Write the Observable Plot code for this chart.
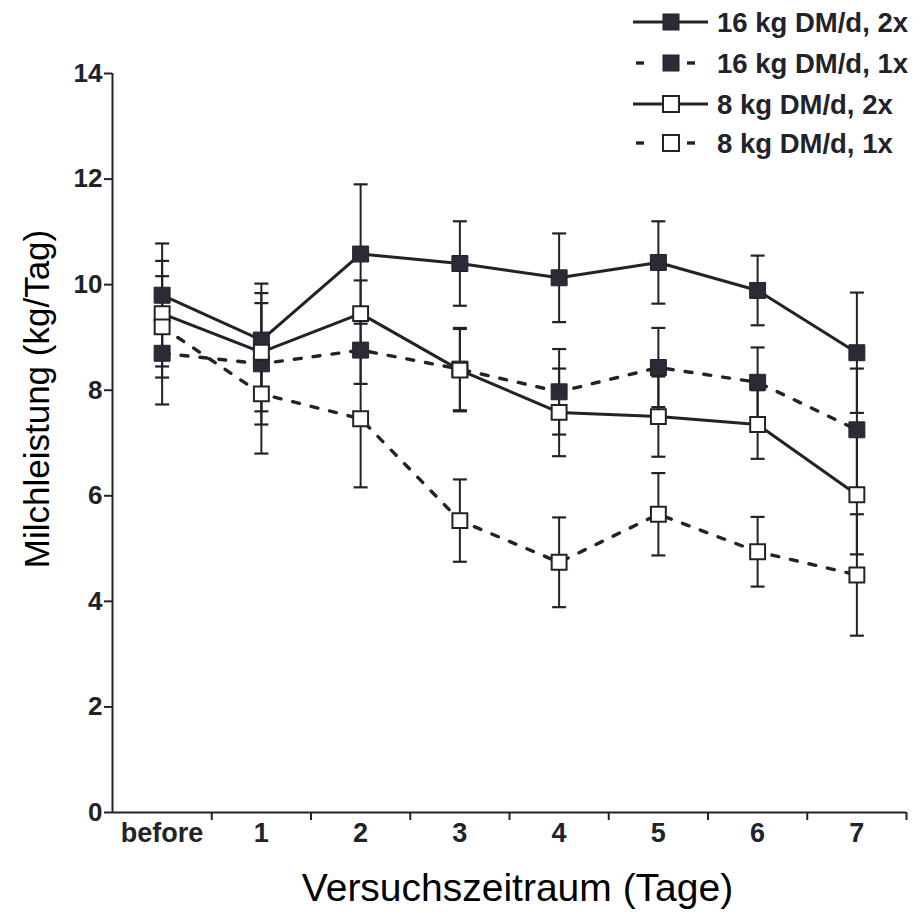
<!DOCTYPE html>
<html>
<head>
<meta charset="utf-8">
<script src="https://cdn.jsdelivr.net/npm/d3@7"></script>
<script src="https://cdn.jsdelivr.net/npm/@observablehq/plot@0.6"></script>
<style>
  html, body { margin: 0; padding: 0; background: #fff; }
  #wrap { position: relative; width: 922px; height: 917px; font-family: "Liberation Sans", Arial, sans-serif; }
  #legend { position: absolute; left: 0; top: 0; }
</style>
</head>
<body>
<div id="wrap"></div>
<script>
// ---- data ----
const days = ["before", "1", "2", "3", "4", "5", "6", "7"];
const yTicks = [0, 2, 4, 6, 8, 10, 12, 14];
const seriesNames = ["16 kg DM/d, 2x", "16 kg DM/d, 1x", "8 kg DM/d, 2x", "8 kg DM/d, 1x"];
const mean16x2 = [9.8, 8.95, 10.58, 10.4, 10.13, 10.42, 9.89, 8.71];
const sd16x2   = [0.98, 1.07, 1.32, 0.8, 0.84, 0.78, 0.66, 1.14];
const mean16x1 = [8.7, 8.5, 8.76, 8.4, 7.97, 8.43, 8.15, 7.25];
const sd16x1   = [0.97, 1.15, 0.64, 0.78, 0.81, 0.75, 0.66, 1.16];
const mean8x2  = [9.45, 8.72, 9.45, 8.38, 7.58, 7.5, 7.35, 6.02];
const sd8x2    = [1.0, 1.12, 0.63, 0.78, 0.83, 0.76, 0.65, 1.13];
const mean8x1  = [9.2, 7.93, 7.46, 5.53, 4.74, 5.65, 4.94, 4.5];
const sd8x1    = [0.96, 1.13, 1.3, 0.78, 0.85, 0.78, 0.66, 1.15];

const ink = "#22222a";
const series = [
  {name: seriesNames[0], mean: mean16x2, sd: sd16x2, filled: true,  dashed: false},
  {name: seriesNames[1], mean: mean16x1, sd: sd16x1, filled: true,  dashed: true},
  {name: seriesNames[2], mean: mean8x2,  sd: sd8x2,  filled: false, dashed: false},
  {name: seriesNames[3], mean: mean8x1,  sd: sd8x1,  filled: false, dashed: true}
];
const rows = series.flatMap(s => days.map((d, i) => ({
  x: i, day: d, series: s.name, mean: s.mean[i], lo: s.mean[i] - s.sd[i], hi: s.mean[i] + s.sd[i],
  filled: s.filled, dashed: s.dashed
})));

const capSymbol = { draw(ctx) { ctx.moveTo(-7, 0); ctx.lineTo(7, 0); } };
const sq = 9.0;

const chart = Plot.plot({
  width: 922,
  height: 917,
  marginLeft: 112,
  marginRight: 16,
  marginTop: 73,
  marginBottom: 105,
  style: {fontFamily: "'Liberation Sans', Arial, sans-serif", color: ink, background: "#fff"},
  x: {domain: [-0.5, 7.5]},
  y: {domain: [0, 14]},
  marks: [
    Plot.axisY({ticks: yTicks, tickSize: 8, tickPadding: 2, fontSize: 26, fontWeight: "bold", label: null, strokeWidth: 2}),
    Plot.axisX({ticks: d3.range(0.5, 8, 1), tickSize: 8, tickFormat: () => "", label: null, strokeWidth: 2}),
    Plot.axisX({ticks: d3.range(0, 8, 1), tickSize: 0, tickPadding: 10, tickFormat: i => days[i], fontSize: 27, fontWeight: "bold", label: null}),
    Plot.ruleY([0], {stroke: ink, strokeWidth: 2}),
    Plot.ruleX([-0.5], {stroke: ink, strokeWidth: 2}),
    // error bars
    Plot.ruleX(rows, {x: "x", y1: "lo", y2: "hi", stroke: ink, strokeWidth: 2}),
    Plot.dot(rows, {x: "x", y: "hi", symbol: capSymbol, stroke: ink, strokeWidth: 2.2, fill: "none"}),
    Plot.dot(rows, {x: "x", y: "lo", symbol: capSymbol, stroke: ink, strokeWidth: 2.2, fill: "none"}),
    // lines
    Plot.line(rows.filter(d => !d.dashed), {x: "x", y: "mean", z: "series", stroke: ink, strokeWidth: 3}),
    Plot.line(rows.filter(d => d.dashed), {x: "x", y: "mean", z: "series", stroke: ink, strokeWidth: 3.4, strokeDasharray: "7,12"}),
    // markers
    Plot.dot(rows.filter(d => d.filled), {x: "x", y: "mean", symbol: "square", r: sq, fill: "#2b2b36", stroke: ink, strokeWidth: 1}),
    Plot.dot(rows.filter(d => !d.filled), {x: "x", y: "mean", symbol: "square", r: sq - 0.6, fill: "#fff", stroke: ink, strokeWidth: 2}),
    // axis titles
    Plot.text(["Milchleistung (kg/Tag)"], {frameAnchor: "left", textAnchor: "middle", text: d => d, rotate: -90, dx: -75, dy: -44, fontSize: 35, fill: "#000"}),
    Plot.text(["Versuchszeitraum (Tage)"], {frameAnchor: "bottom", textAnchor: "middle", text: d => d, dx: 8, dy: 88, fontSize: 39, fill: "#000"})
  ]
});

const wrap = document.getElementById("wrap");
wrap.appendChild(chart);

// ---- legend ----
const legendRows = [22, 63, 104, 143];
const lg = d3.select(wrap).append("svg").attr("id", "legend").attr("width", 922).attr("height", 170);
series.forEach((s, i) => {
  const g = lg.append("g").attr("transform", `translate(0,${legendRows[i]})`);
  if (s.dashed) {
    g.append("line").attr("x1", 636).attr("x2", 644).attr("y1", 0).attr("y2", 0).attr("stroke", ink).attr("stroke-width", 3.4);
    g.append("line").attr("x1", 687).attr("x2", 695).attr("y1", 0).attr("y2", 0).attr("stroke", ink).attr("stroke-width", 3.4);
  } else {
    g.append("line").attr("x1", 633).attr("x2", 708).attr("y1", 0).attr("y2", 0).attr("stroke", ink).attr("stroke-width", 3);
  }
  g.append("rect").attr("x", 671 - 8).attr("y", -8).attr("width", 16).attr("height", 16)
    .attr("fill", s.filled ? "#2b2b36" : "#fff").attr("stroke", ink).attr("stroke-width", s.filled ? 1 : 2);
  g.append("text").attr("x", 717).attr("y", 0).attr("dy", "0.35em")
    .attr("font-size", 27.5).attr("font-weight", "bold").attr("fill", ink)
    .attr("font-family", "'Liberation Sans', Arial, sans-serif").text(s.name);
});
</script>
</body>
</html>
